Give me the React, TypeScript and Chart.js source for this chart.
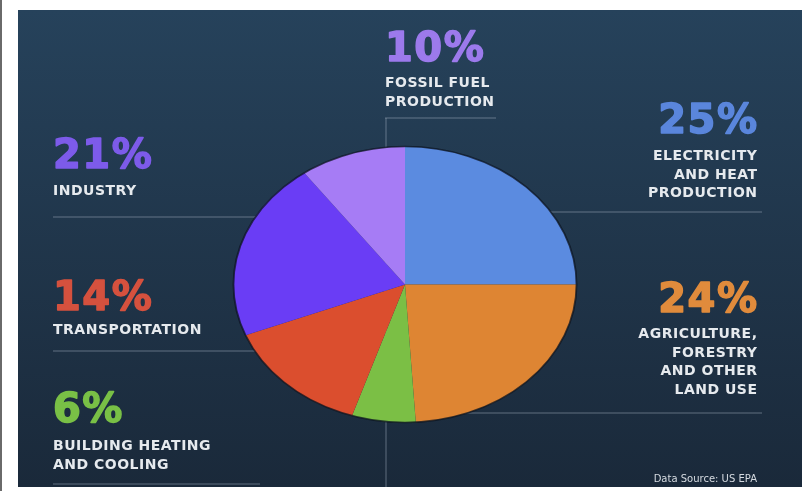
import React, { useEffect, useRef } from "react";
import { Chart, registerables } from "chart.js";

Chart.register(...registerables);

// ---- data ----
const categories = [
  "Electricity and Heat Production",
  "Agriculture, Forestry and Other Land Use",
  "Building Heating and Cooling",
  "Transportation",
  "Industry",
  "Fossil Fuel Production",
];
const shares = [25, 24, 6, 14, 21, 10];
const percentLabels = ["25%", "24%", "6%", "14%", "21%", "10%"];
const captionLines = [
  ["ELECTRICITY", "AND HEAT", "PRODUCTION"],
  ["AGRICULTURE,", "FORESTRY", "AND OTHER", "LAND USE"],
  ["BUILDING HEATING", "AND COOLING"],
  ["TRANSPORTATION"],
  ["INDUSTRY"],
  ["FOSSIL FUEL", "PRODUCTION"],
];
const sourceNote = "Data Source: US EPA";

// ---- styles ----
const sliceColors = ["#5B8BE0", "#DE8533", "#7BBF45", "#DB4E2E", "#6A3DF5", "#A67CF5"];
const percentColors = ["#5A86DC", "#E08B3C", "#79C046", "#D5513E", "#7D5BEA", "#9C7AEC"];
// label anchor: x, percent baseline y, first caption baseline y, align
const labelPos = [
  { x: 757, py: 133, cy: 160, align: "right" },
  { x: 757, py: 312, cy: 338, align: "right" },
  { x: 53, py: 422, cy: 450, align: "left" },
  { x: 53, py: 310, cy: 334, align: "left" },
  { x: 53, py: 168, cy: 195, align: "left" },
  { x: 385, py: 61, cy: 87, align: "left" },
];
const captionStep = 18.5;
const leaderLines = [
  [385, 118, 496, 118],
  [386, 118, 386, 300],
  [386, 300, 386, 487],
  [53, 217, 300, 217],
  [500, 212, 762, 212],
  [53, 351, 300, 351],
  [450, 413, 762, 413],
  [53, 484, 260, 484],
];
const ELLIPSE_X = 1.243;

const decoPlugin = {
  id: "deco",
  beforeDraw(chart: any) {
    const ctx = chart.ctx;
    ctx.save();
    ctx.fillStyle = "#ffffff";
    ctx.fillRect(0, 0, 802, 491);
    ctx.fillStyle = "#6a6a6a";
    ctx.fillRect(0, 0, 2, 491);
    const g = ctx.createLinearGradient(0, 10, 0, 487);
    g.addColorStop(0, "#26425B");
    g.addColorStop(1, "#1A293A");
    ctx.fillStyle = g;
    ctx.fillRect(18, 10, 784, 477);
    ctx.strokeStyle = "rgba(170,185,200,0.32)";
    ctx.lineWidth = 1.5;
    leaderLines.forEach(([x1, y1, x2, y2]) => {
      ctx.beginPath();
      ctx.moveTo(x1, y1);
      ctx.lineTo(x2, y2);
      ctx.stroke();
    });
    ctx.restore();
  },
  beforeDatasetsDraw(chart: any) {
    const ctx = chart.ctx;
    const arc = chart.getDatasetMeta(0).data[0];
    ctx.save();
    ctx.translate(arc.x, arc.y);
    ctx.scale(ELLIPSE_X, 1);
    ctx.translate(-arc.x, -arc.y);
  },
  afterDatasetsDraw(chart: any) {
    const ctx = chart.ctx;
    const arc = chart.getDatasetMeta(0).data[0];
    ctx.beginPath();
    ctx.arc(arc.x, arc.y, arc.outerRadius, 0, Math.PI * 2);
    ctx.strokeStyle = "rgba(12,20,32,0.75)";
    ctx.lineWidth = 1.5;
    ctx.stroke();
    ctx.restore();
  },
  afterDraw(chart: any) {
    const ctx = chart.ctx;
    ctx.save();
    ctx.textBaseline = "alphabetic";
    ctx.lineJoin = "round";
    percentLabels.forEach((p, i) => {
      const pos = labelPos[i];
      ctx.textAlign = pos.align;
      ctx.font = "bold 40px 'DejaVu Sans'";
      (ctx as any).letterSpacing = "1.5px";
      ctx.fillStyle = percentColors[i];
      ctx.strokeStyle = percentColors[i];
      ctx.lineWidth = 1.5;
      const px = pos.align === "right" ? pos.x + 1.5 : pos.x;
      ctx.fillText(p, px, pos.py);
      ctx.strokeText(p, px, pos.py);
      ctx.font = "bold 14px 'DejaVu Sans'";
      (ctx as any).letterSpacing = "0.5px";
      ctx.fillStyle = "#E6EAEE";
      const cx = pos.align === "right" ? pos.x + 0.5 : pos.x;
      captionLines[i].forEach((line, j) => {
        ctx.fillText(line, cx, pos.cy + j * captionStep);
      });
    });
    (ctx as any).letterSpacing = "0px";
    ctx.font = "10px 'DejaVu Sans'";
    ctx.textAlign = "right";
    ctx.fillStyle = "#D5DAE0";
    ctx.fillText(sourceNote, 757, 482);
    ctx.restore();
  },
};

export default function App() {
  const ref = useRef<HTMLCanvasElement>(null);
  useEffect(() => {
    if (!ref.current) return;
    const chart = new Chart(ref.current, {
      type: "pie",
      data: {
        labels: categories,
        datasets: [
          {
            data: shares,
            backgroundColor: sliceColors,
            borderWidth: 0,
            clip: false,
          } as any,
        ],
      },
      options: {
        responsive: false,
        animation: false,
        events: [],
        layout: { padding: { top: 146, bottom: 68, left: 267, right: 259 } },
        plugins: {
          legend: { display: false },
          tooltip: { enabled: false },
        },
      },
      plugins: [decoPlugin],
    });
    return () => chart.destroy();
  }, []);
  return (
    <div style={{ position: "fixed", left: 0, top: 0, width: 802, height: 491 }}>
      <canvas ref={ref} width={802} height={491} style={{ display: "block", width: 802, height: 491 }} />
    </div>
  );
}
